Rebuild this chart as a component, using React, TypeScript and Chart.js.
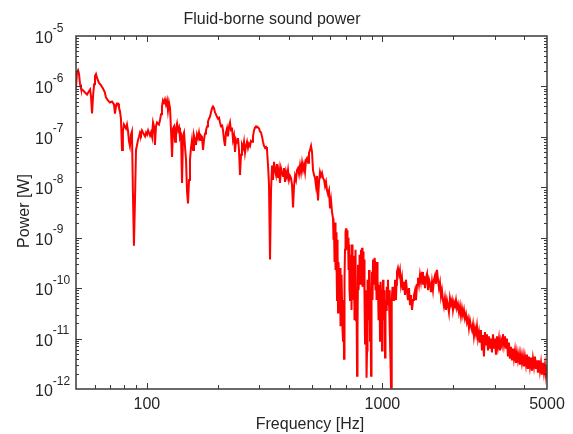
import React, { useEffect, useRef } from "react";
import { Chart, registerables } from "chart.js";

Chart.register(...registerables);

const chartTitle = "Fluid-borne sound power";
const xAxisTitle = "Frequency [Hz]";
const yAxisTitle = "Power [W]";
const xTickLabels = [100, 1000, 5000];
const yTickExponents = [-5, -6, -7, -8, -9, -10, -11, -12];
const xRange = [50, 5000];
const yRange = [1e-12, 1e-5];

// Frequency [Hz] / Power [W], in segments
const freqA = [50, 50.5, 51.0, 51.5, 52.0, 52.5, 53.6, 54.6, 55.7, 56.3, 57.4, 57.9, 58.5, 59.1, 59.7, 60.2, 60.8, 61.4, 62.6, 63.8, 65.1, 66.3, 67.0, 68.3, 69.7, 71.1, 72.5, 73.2, 73.9, 74.6, 75.4, 76.1, 76.8, 77.6, 78.4, 79.1, 79.9, 80.7, 81.5, 82.3, 83.1, 83.9, 84.7, 85.6, 86.4, 87.2, 88.1, 89.0, 89.9, 90.8, 91.7, 92.6, 93.5, 94.4, 95.3, 97.2, 98.2, 99.2, 100.2, 101.2];
const powerA = [9.1e-7, 1.93e-6, 2.1e-6, 1.76e-6, 1.11e-6, 9.1e-7, 8.3e-7, 7.6e-7, 6.9e-7, 7.6e-7, 8.7e-7, 6.3e-7, 2.9e-7, 6.6e-7, 1.11e-6, 1.61e-6, 1.76e-6, 1.47e-6, 1.17e-6, 1.06e-6, 9.1e-7, 7.6e-7, 6.05e-7, 5.3e-7, 4.8e-7, 5.0e-7, 4.4e-7, 2.9e-7, 4.0e-7, 4.6e-7, 4.6e-7, 3.8e-7, 3.3e-7, 2.3e-7, 5.5e-8, 1.28e-7, 1.76e-7, 1.61e-7, 1.47e-7, 1.76e-7, 1.34e-7, 8.3e-8, 6.6e-8, 1.11e-7, 1.28e-7, 8.7e-9, 6.9e-10, 5.5e-9, 5.5e-8, 6.9e-8, 8.7e-8, 1.02e-7, 1.22e-7, 1.11e-7, 1.34e-7, 1.11e-7, 1.02e-7, 1.22e-7, 1.11e-7, 1.34e-7];

const freqB = [103.1, 104.1, 105.1, 106.2, 107.2, 108.2, 109.3, 110.4, 112.5, 113.6, 114.8, 115.9, 117.0, 118.2, 119.3, 120.5, 121.7, 122.9, 124.1, 125.4, 126.6, 127.9, 129.1, 130.4, 131.7, 132.9, 134.3, 135.6, 136.9, 138.2, 139.6, 141.0, 142.4, 143.8, 145.2, 146.6, 148.1, 149.5, 151.0, 152.4, 153.9, 155.4, 157.0, 158.5, 160.1, 161.6, 163.2, 164.8, 166.4, 168.1, 169.7, 171.4, 173.1, 174.8, 176.5, 178.2, 180.0, 181.7, 183.5, 185.3, 187.1, 189.0, 190.8, 192.7, 194.6, 196.5, 198.4, 200.4, 202.4, 204.4, 206.4, 208.4, 210.5, 212.6, 214.6];
const powerB = [1.06e-7, 1.22e-7, 1.02e-7, 1.93e-7, 1.61e-7, 6.9e-8, 1.61e-7, 1.93e-7, 1.76e-7, 2.1e-7, 2.8e-7, 4.0e-7, 5.3e-7, 4.8e-7, 5.5e-7, 4.4e-7, 5.3e-7, 3.3e-7, 4.8e-7, 3.7e-7, 1.34e-7, 4.0e-8, 1.47e-7, 1.61e-7, 8.0e-8, 1.47e-7, 1.84e-7, 1.34e-7, 1.53e-7, 9.5e-8, 1.06e-7, 1.22e-8, 1.06e-7, 1.22e-7, 6.3e-8, 3.5e-8, 8.0e-9, 4.8e-9, 1.4e-8, 3.5e-8, 6.05e-8, 8.7e-8, 5.5e-8, 1.06e-7, 8.7e-8, 6.9e-8, 1.11e-7, 9.5e-8, 1.22e-7, 8.7e-8, 1.06e-7, 1.0e-7, 5.5e-8, 8.7e-8, 1.17e-7, 1.34e-7, 1.61e-7, 2.0e-7, 2.3e-7, 2.5e-7, 3.05e-7, 3.7e-7, 4.0e-7, 3.7e-7, 3.05e-7, 2.8e-7, 2.5e-7, 2.3e-7, 2.4e-7, 1.93e-7, 1.61e-7, 1.76e-7, 1.34e-7, 8.7e-8, 6.6e-8];

const freqC = [216.7, 218.9, 221.0, 223.2, 225.4, 227.6, 229.8, 232.1, 234.4, 236.7, 239.0, 241.4, 243.7, 246.1, 248.5, 251.0, 253.4, 255.9, 258.4, 261.0, 263.6, 266.2, 268.8, 271.4, 274.1, 276.8, 279.5, 282.2, 285.0, 287.8, 290.6, 293.5, 296.4, 299.3, 302.2, 305.2, 308.2, 311.2, 314.3, 317.4, 320.5, 323.6, 326.8, 330.0, 333.3, 336.6, 339.9, 343.2, 346.6, 350.0, 353.4, 356.9, 360.4, 363.9, 367.5, 371.1, 374.8, 378.4, 382.1, 385.9, 389.7, 393.5, 397.4, 401.3, 405.3, 409.3, 413.3, 417.4, 421.5, 425.6, 429.8, 434.0, 438.3];
const powerC = [1.22e-7, 1.47e-7, 1.02e-7, 1.61e-7, 1.93e-7, 1.34e-7, 1.53e-7, 8.7e-8, 1.06e-7, 5.0e-8, 8.7e-8, 7.6e-8, 9.5e-8, 5.5e-8, 1.76e-8, 4.4e-8, 6.9e-8, 6.05e-8, 8.0e-8, 4.8e-8, 6.6e-8, 8.0e-8, 6.05e-8, 7.3e-8, 6.6e-8, 8.3e-8, 8.0e-8, 1.02e-7, 1.34e-7, 1.53e-7, 1.61e-7, 1.61e-7, 1.53e-7, 1.47e-7, 1.28e-7, 1.22e-7, 1.02e-7, 8.0e-8, 6.6e-8, 6.05e-8, 6.3e-8, 5.5e-8, 2.8e-8, 1.11e-8, 3.7e-10, 8.7e-9, 2.7e-8, 1.4e-8, 3.2e-8, 2.2e-8, 1.76e-8, 2.9e-8, 1.53e-8, 2.2e-8, 1.22e-8, 2.4e-8, 2.0e-8, 1.68e-8, 2.4e-8, 1.28e-8, 2.0e-8, 1.61e-8, 2.2e-8, 1.4e-8, 1.68e-8, 1.53e-8, 1.11e-8, 4.0e-9, 1.06e-8, 1.68e-8, 1.4e-8, 2.2e-8, 2.4e-8];

const freqD = [442.6, 447.0, 451.3, 455.8, 460.2, 464.7, 469.3, 473.9, 478.5, 483.2, 487.9, 492.7, 497.7, 502.5, 507.4, 512.5, 517.5, 522.6, 527.7, 532.9, 538.1, 543.4, 548.8, 554.2, 559.6, 565.1, 570.7, 576.3, 581.9, 587.6, 593.4, 599.3, 605.2, 611.1];
const powerD = [1.84e-8, 2.7e-8, 2.0e-8, 3.05e-8, 2.2e-8, 2.8e-8, 2.0e-8, 3.5e-8, 3.8e-8, 3.05e-8, 4.8e-8, 5.5e-8, 6.6e-8, 5.0e-8, 2.2e-8, 1.76e-8, 1.53e-8, 1.06e-8, 1.68e-8, 5.5e-9, 1.28e-8, 2.0e-8, 1.68e-8, 1.93e-8, 1.53e-8, 1.4e-8, 1.06e-8, 1.28e-8, 8.7e-9, 7.3e-9, 8.7e-9, 3.8e-9, 5.5e-9, 3.2e-9];

const freqDense = [617.1, 620.1, 623.2, 626.2, 629.3, 632.4, 635.5, 638.6, 641.7, 644.8, 648.0, 651.2, 654.4, 657.6, 660.8, 664.1, 667.4, 670.6, 673.9, 677.2, 680.5, 683.8, 687.2, 690.5, 693.9, 697.3, 700.8, 704.2, 707.6, 711.1, 714.6, 718.1, 721.6, 725.1, 728.7, 732.3, 735.9, 739.5, 743.1, 746.7, 750.4, 754.0, 757.7, 761.4, 765.2, 769.0, 772.8, 776.6, 780.4, 784.2, 788.0, 791.9, 795.8, 799.7, 803.6, 807.5, 811.5, 815.5, 819.5, 823.5, 827.6, 831.6, 835.7, 839.8, 843.9, 848.0, 852.2, 856.4, 860.6, 864.8, 869.0, 873.3, 877.6, 881.9, 886.2, 890.5, 894.9, 899.3, 903.7, 908.1, 912.6, 917.1, 921.6, 926.1, 930.6, 935.1, 939.7, 944.3, 949.0, 953.6, 958.3, 963.0, 967.7, 972.4, 977.2, 982.0, 986.8, 991.6, 996.5, 1001, 1006, 1011, 1016, 1021, 1026, 1031, 1036, 1041, 1046, 1051, 1056, 1062, 1067, 1072, 1077, 1082, 1088, 1093, 1098, 1104, 1109, 1114, 1120, 1125, 1131, 1136, 1142, 1147, 1153];
const powerDense = [
  2.4e-9, 9.1e-10, 1.53e-9, 3.3e-10, 2.0e-9, 2.3e-10, 1.28e-9, 3.3e-10, 5.8e-11, 9.1e-10,
  3.3e-11, 3.3e-10, 1.47e-10, 5.8e-11, 2.5e-10, 1.76e-11, 8.3e-11, 1.84e-10, 5.8e-11, 1.47e-11,
  9.1e-12, 5.8e-11, 4.0e-12, 1.47e-10, 5.8e-10, 1.28e-9, 1.53e-9, 9.1e-10, 1.4e-9, 5.8e-10,
  1.0e-9, 2.3e-10, 7.3e-10, 9.1e-11, 5.8e-11, 4.6e-10, 3.3e-10, 3.7e-11, 7.3e-10, 2.3e-10,
  4.4e-10, 5.8e-11, 3.3e-10, 2.3e-11, 9.1e-11, 5.8e-10, 2.3e-11, 5.8e-11, 1.84e-12, 1.47e-11,
  2.9e-10, 9.1e-11, 1.84e-10, 4.6e-10, 3.3e-10, 1.17e-10, 5.8e-10, 1.84e-10, 6.3e-10, 1.06e-10,
  5.3e-10, 2.3e-10, 3.7e-10, 5.8e-11, 8.0e-12, 9.1e-11, 5.8e-11, 1.68e-12, 5.8e-12, 1.47e-10,
  6.6e-11, 2.3e-11, 2.3e-10, 5.8e-11, 9.1e-12, 3.7e-11, 1.84e-12, 9.1e-11, 2.1e-10, 5.8e-11,
  3.7e-10, 1.17e-10, 2.5e-10, 4.0e-10, 3.3e-10, 9.1e-11, 2.8e-10, 5.8e-11, 3.3e-10, 1.47e-10,
  9.1e-11, 2.3e-11, 1.17e-10, 5.8e-11, 9.1e-12, 1.34e-10, 3.7e-11, 9.1e-11, 5.8e-12, 5.8e-11,
  1.47e-10, 2.3e-11, 5.8e-11, 9.1e-11, 4.2e-12, 5.8e-11, 3.7e-11, 1.0e-10, 1.06e-10, 5.8e-11,
  1.47e-10, 4.6e-11, 5.8e-11, 9.1e-11, 1.47e-11, 3.7e-12, 1.06e-12, 9.1e-12, 5.8e-11, 1.06e-10,
  9.1e-11, 5.8e-11, 7.3e-11, 1.0e-10, 1.47e-10, 6.9e-11, 5.8e-11, 1.17e-10, 2.1e-10,
];

const freqE = [1164, 1176, 1187, 1199, 1211, 1222, 1234, 1247, 1259, 1271, 1284, 1297, 1310, 1323, 1336, 1349, 1362, 1376, 1389, 1403, 1416, 1430, 1444];
const powerE = [2.5e-10, 1.84e-10, 2.3e-10, 1.17e-10, 1.61e-10, 9.1e-11, 1.34e-10, 7.3e-11, 1.47e-10, 9.1e-11, 5.8e-11, 1.0e-10, 4.6e-11, 7.3e-11, 3.7e-11, 5.8e-11, 7.3e-11, 9.1e-11, 5.8e-11, 1.17e-10, 1.61e-10, 1.17e-10, 1.84e-10];

const freqF = [1458, 1473, 1487, 1502, 1517, 1532, 1547, 1562, 1578, 1593, 1608, 1624, 1640, 1656, 1672, 1689, 1705, 1722, 1739, 1756, 1773, 1790, 1808, 1825, 1843, 1862, 1880, 1898, 1917, 1936, 1955, 1974, 1993, 2013, 2033, 2053, 2073, 2093, 2114, 2135, 2156, 2177, 2198, 2220, 2242, 2264, 2286, 2308, 2331, 2354, 2377, 2401, 2424, 2448, 2472, 2497, 2521, 2546, 2571, 2596];
const powerF = [1.34e-10, 2.1e-10, 1.17e-10, 1.76e-10, 1.0e-10, 1.61e-10, 1.93e-10, 9.1e-11, 1.47e-10, 1.22e-10, 8.3e-11, 1.34e-10, 9.1e-11, 1.47e-10, 1.76e-10, 1.22e-10, 2.3e-10, 1.47e-10, 1.0e-10, 1.28e-10, 6.9e-11, 9.1e-11, 5.8e-11, 4.4e-11, 6.3e-11, 3.7e-11, 5.8e-11, 4.6e-11, 3.3e-11, 6.3e-11, 4.8e-11, 5.8e-11, 3.7e-11, 5.3e-11, 4.4e-11, 5.8e-11, 4.0e-11, 4.8e-11, 3.3e-11, 4.4e-11, 2.8e-11, 4.0e-11, 2.9e-11, 3.7e-11, 2.5e-11, 3.05e-11, 2.1e-11, 2.5e-11, 1.61e-11, 2.3e-11, 1.76e-11, 1.47e-11, 1.93e-11, 1.11e-11, 1.61e-11, 1.22e-11, 1.76e-11, 1.0e-11, 1.34e-11, 8.3e-12];

const freqG = [2621, 2647, 2673, 2699, 2726, 2753, 2780, 2807, 2835, 2863, 2891, 2919, 2948, 2977, 3006, 3036, 3066, 3096, 3126, 3157, 3188, 3219, 3251, 3283, 3315, 3347, 3380, 3413, 3447, 3481, 3515, 3549, 3584, 3619, 3655, 3691, 3727, 3764, 3801, 3838, 3876, 3914, 3952, 3991, 4030, 4070, 4110, 4150, 4191, 4232, 4274, 4316, 4358, 4401, 4444, 4488, 4532, 4577, 4622, 4667, 4713, 4759, 4806, 4853, 4901, 4949, 5000];
const powerG = [1.47e-11, 5.8e-12, 1.17e-11, 4.4e-12, 1.34e-11, 7.3e-12, 1.22e-11, 5.8e-12, 1.11e-11, 6.3e-12, 1.0e-11, 5.3e-12, 1.22e-11, 6.3e-12, 1.0e-11, 4.8e-12, 1.11e-11, 6.9e-12, 1.0e-11, 5.8e-12, 9.1e-12, 7.3e-12, 1.22e-11, 7.6e-12, 1.11e-11, 6.3e-12, 1.0e-11, 4.4e-12, 8.3e-12, 4.0e-12, 6.9e-12, 3.7e-12, 6.3e-12, 4.0e-12, 5.8e-12, 3.3e-12, 5.3e-12, 3.7e-12, 5.0e-12, 3.05e-12, 4.8e-12, 3.3e-12, 4.6e-12, 2.8e-12, 4.4e-12, 3.05e-12, 4.8e-12, 2.5e-12, 4.4e-12, 2.8e-12, 4.2e-12, 2.3e-12, 4.0e-12, 2.8e-12, 4.4e-12, 2.5e-12, 3.7e-12, 2.1e-12, 3.7e-12, 2.3e-12, 3.3e-12, 1.93e-12, 3.3e-12, 2.1e-12, 3.05e-12, 1.84e-12, 2.8e-12];

const frequency = [...freqA, ...freqB, ...freqC, ...freqD, ...freqDense, ...freqE, ...freqF, ...freqG];
const power = [...powerA, ...powerB, ...powerC, ...powerD, ...powerDense, ...powerE, ...powerF, ...powerG];

const FONT = '"Liberation Sans", Arial, Helvetica, sans-serif';
const TEXT = "#262626";
const AXIS = "#3a3a3a";

const framePlugin = {
  id: "matlabFrame",
  afterDraw(chart: any) {
    const { ctx, chartArea: a } = chart;
    const xs = chart.scales.x;
    const ys = chart.scales.y;
    ctx.save();

    // tick marks (inside, on all four sides)
    ctx.strokeStyle = AXIS;
    ctx.lineWidth = 1;
    ctx.beginPath();
    for (const dec of [10, 100, 1000]) {
      for (let m = 1; m <= 9; m++) {
        const v = m * dec;
        if (v <= xRange[0] || v >= xRange[1]) continue;
        const px = Math.round(xs.getPixelForValue(v)) + 0.5;
        const len = m === 1 ? 6 : 4;
        ctx.moveTo(px, a.bottom);
        ctx.lineTo(px, a.bottom - len);
        ctx.moveTo(px, a.top);
        ctx.lineTo(px, a.top + len);
      }
    }
    for (let e = -12; e <= -6; e++) {
      for (let m = 1; m <= 9; m++) {
        const v = m * Math.pow(10, e);
        if (v <= yRange[0] * 1.0001 && m === 1) continue;
        const py = Math.round(ys.getPixelForValue(v)) + 0.5;
        const len = m === 1 ? 6 : 3;
        ctx.moveTo(a.left, py);
        ctx.lineTo(a.left + len, py);
        ctx.moveTo(a.right, py);
        ctx.lineTo(a.right - len, py);
      }
    }
    ctx.stroke();

    // frame
    ctx.lineWidth = 1.5;
    ctx.strokeRect(a.left, a.top, a.right - a.left, a.bottom - a.top);

    // x tick labels
    ctx.fillStyle = TEXT;
    ctx.font = `16px ${FONT}`;
    ctx.textAlign = "center";
    ctx.textBaseline = "alphabetic";
    for (const v of xTickLabels) {
      ctx.fillText(String(v), xs.getPixelForValue(v), a.bottom + 20);
    }

    // y tick labels 10^e
    for (const e of yTickExponents) {
      const py = ys.getPixelForValue(Math.pow(10, e));
      ctx.font = `16px ${FONT}`;
      ctx.textAlign = "left";
      ctx.fillText("10", 35, py + 7);
      const w = ctx.measureText("10").width;
      ctx.font = `12px ${FONT}`;
      ctx.fillText(String(e), 35 + w, py - 4.5);
    }

    // titles
    ctx.font = `16px ${FONT}`;
    ctx.textAlign = "center";
    ctx.fillText(chartTitle, 272, 24);
    ctx.fillText(xAxisTitle, 310, 429);
    ctx.translate(29, 211);
    ctx.rotate(-Math.PI / 2);
    ctx.fillText(yAxisTitle, 0, 0);

    ctx.restore();
  },
};

export default function App() {
  const ref = useRef<HTMLCanvasElement | null>(null);
  useEffect(() => {
    if (!ref.current) return;
    const n = Math.min(frequency.length, power.length);
    const points = [];
    for (let i = 0; i < n; i++) points.push({ x: frequency[i], y: power[i] });
    const chart = new Chart(ref.current, {
      type: "line",
      data: {
        datasets: [
          {
            data: points,
            borderColor: "#ff0000",
            borderWidth: 2,
            pointRadius: 0,
            fill: false,
            tension: 0,
          },
        ],
      },
      options: {
        animation: false,
        responsive: false,
        devicePixelRatio: 1,
        layout: { padding: { left: 76, right: 26, top: 36, bottom: 45 } },
        plugins: { legend: { display: false }, tooltip: { enabled: false }, title: { display: false } },
        scales: {
          x: { type: "logarithmic", min: xRange[0], max: xRange[1], display: false },
          y: { type: "logarithmic", min: yRange[0], max: yRange[1], display: false },
        },
      },
      plugins: [framePlugin],
    });
    return () => chart.destroy();
  }, []);
  return (
    <div style={{ position: "absolute", left: 0, top: 0, width: 573, height: 434, background: "#fff" }}>
      <canvas ref={ref} width={573} height={434} style={{ display: "block" }} />
    </div>
  );
}
